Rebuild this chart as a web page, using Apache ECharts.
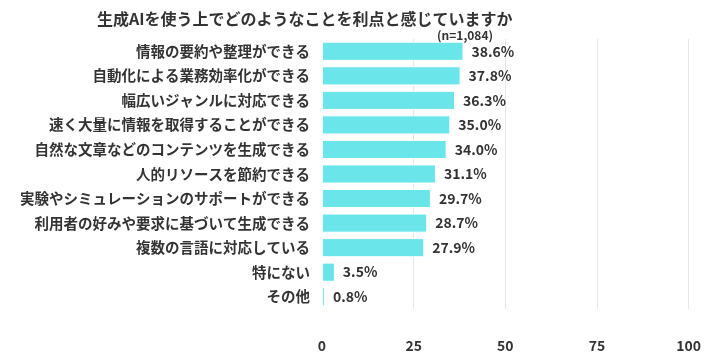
<!DOCTYPE html>
<html><head><meta charset="utf-8">
<script src="https://cdn.jsdelivr.net/npm/echarts@6/dist/echarts.min.js"></script>
<style>html,body{margin:0;padding:0;background:#fff}#c{width:704px;height:361px}</style>
</head><body><div id="c"></div>
<script>
const categories = ["情報の要約や整理ができる","自動化による業務効率化ができる","幅広いジャンルに対応できる","速く大量に情報を取得することができる","自然な文章などのコンテンツを生成できる","人的リソースを節約できる","実験やシミュレーションのサポートができる","利用者の好みや要求に基づいて生成できる","複数の言語に対応している","特にない","その他"];
const values = [38.6,37.8,36.3,35.0,34.0,31.1,29.7,28.7,27.9,3.5,0.8];
const tickValues = [0,25,50,75,100];
const font = '"Noto Sans CJK JP","Noto Sans",sans-serif';
const chart = echarts.init(document.getElementById('c'));
chart.setOption({
  animation:false,
  title:[{text:'生成AIを使う上でどのようなことを利点と感じていますか',left:92,top:6,textStyle:{fontFamily:font,fontSize:16,fontWeight:'bold',color:'#333'}},
         {text:'(n=1,084)',left:432,top:24,textStyle:{fontFamily:font,fontSize:12,fontWeight:'bold',color:'#333'}}],
  grid:{left:322,right:12,top:39,bottom:52},
  xAxis:{type:'value',min:tickValues[0],max:tickValues[tickValues.length-1],interval:25,
    axisLine:{show:false},axisTick:{show:false},
    splitLine:{showMinLine:false,lineStyle:{color:'#e6e6e6'}},
    axisLabel:{fontFamily:font,fontSize:14,fontWeight:'bold',color:'#333',margin:30}},
  yAxis:{type:'category',data:categories,inverse:true,
    axisLine:{show:false},axisTick:{show:false},
    axisLabel:{fontFamily:font,fontSize:14.5,fontWeight:'bold',color:'#333',margin:12}},
  series:[{type:'bar',data:values,barCategoryGap:'22%',
    itemStyle:{color:'#6ae5e9',borderColor:'#fff',borderWidth:1},
    label:{show:true,position:'right',distance:8,formatter:p=>p.value.toFixed(1)+'%',fontFamily:font,fontSize:14,fontWeight:'bold',color:'#333'}}]
});
</script></body></html>
